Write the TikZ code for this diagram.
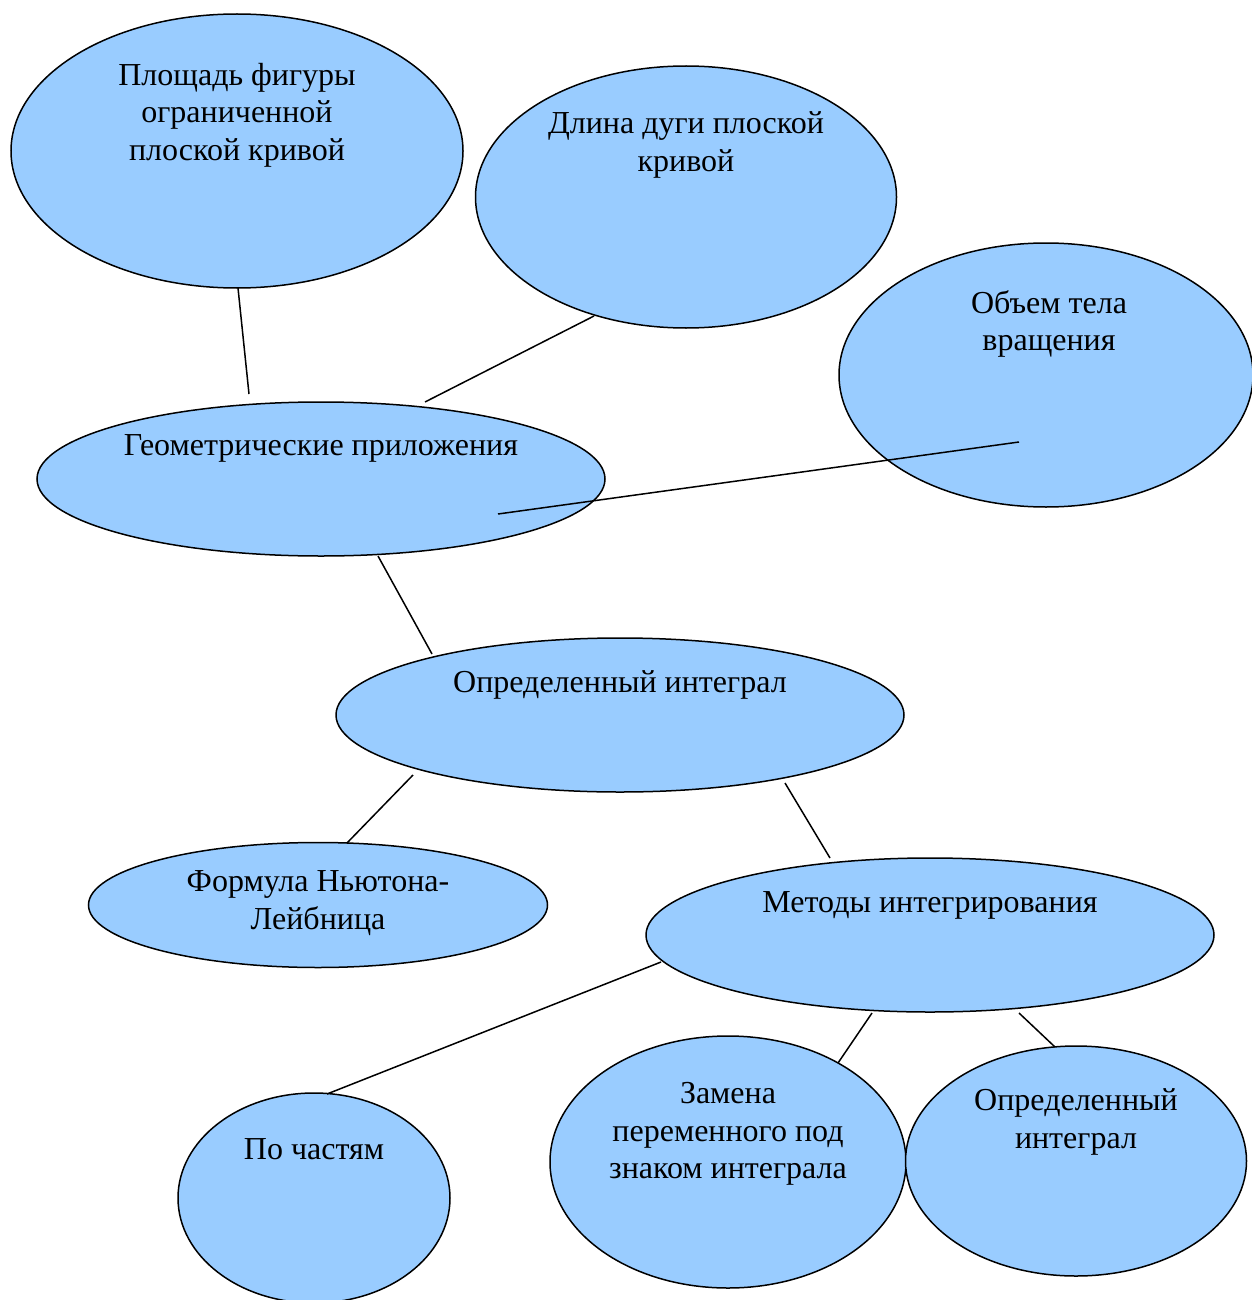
\documentclass[tikz,border=0pt]{standalone}
\usepackage{fontspec}
\setmainfont{Liberation Serif}
\usetikzlibrary{shapes.geometric}
\definecolor{bubble}{HTML}{99CCFF}
\begin{document}
\begin{tikzpicture}[x=1pt,y=-1pt,
  oval/.style={ellipse,draw=black,line width=1.5pt,fill=bubble,inner sep=0pt},
  lbl/.style={align=center,font=\fontsize{32}{37.5}\selectfont,inner sep=0pt},
  link/.style={draw=black,line width=1.5pt}]
\useasboundingbox (0,0) rectangle (1251,1300);
% ellipses
\node[oval,minimum width=452pt,minimum height=274pt] (e1) at (237,151) {};
\node[oval,minimum width=421pt,minimum height=262pt] (e2) at (686,197) {};
\node[oval,minimum width=414pt,minimum height=264pt] (e3) at (1046,375) {};
\node[oval,minimum width=568pt,minimum height=154pt] (e4) at (321,479) {};
\node[oval,minimum width=568pt,minimum height=154pt] (e5) at (620,715) {};
\node[oval,minimum width=459pt,minimum height=125pt] (e6) at (318,905) {};
\node[oval,minimum width=568pt,minimum height=154pt] (e7) at (930,935) {};
\node[oval,minimum width=272pt,minimum height=210pt] (e8) at (314,1198) {};
\node[oval,minimum width=356pt,minimum height=252pt] (e9) at (728,1162) {};
\node[oval,minimum width=341pt,minimum height=230pt] (e10) at (1076,1161) {};
% labels
\node[lbl] (t1) at (237,115) {Площадь фигуры\\ограниченной\\плоской кривой};
\node[lbl] (t2) at (686,145) {Длина дуги плоской\\кривой};
\node[lbl] (t3) at (1049,324) {Объем тела\\вращения};
\node[lbl] (t4) at (321,448) {Геометрические приложения};
\node[lbl] (t5) at (620,685) {Определенный интеграл};
\node[lbl] (t6) at (318,903) {Формула Ньютона-\\Лейбница};
\node[lbl] (t7) at (930,905) {Методы интегрирования};
\node[lbl] (t8) at (314,1149) {По частям};
\node[lbl] (t9) at (728,1134) {Замена\\переменного под\\знаком интеграла};
\node[lbl] (t10) at (1076,1122) {Определенный\\интеграл};
% connector end points
\coordinate (c1a) at (238,288); \coordinate (c1b) at (249,394);
\coordinate (c2a) at (594,316); \coordinate (c2b) at (425,402);
\coordinate (c3a) at (1019,442); \coordinate (c3b) at (498,514);
\coordinate (c4a) at (378,556); \coordinate (c4b) at (432,654);
\coordinate (c5a) at (413,775); \coordinate (c5b) at (347,843);
\coordinate (c6a) at (785,783); \coordinate (c6b) at (830,858);
\coordinate (c7a) at (661,962); \coordinate (c7b) at (327,1094);
\coordinate (c8a) at (872,1013); \coordinate (c8b) at (838,1063);
\coordinate (c9a) at (1019,1013); \coordinate (c9b) at (1055,1047);
\draw[link] (c1a) -- (c1b);
\draw[link] (c2a) -- (c2b);
\draw[link] (c3a) -- (c3b);
\draw[link] (c4a) -- (c4b);
\draw[link] (c5a) -- (c5b);
\draw[link] (c6a) -- (c6b);
\draw[link] (c7a) -- (c7b);
\draw[link] (c8a) -- (c8b);
\draw[link] (c9a) -- (c9b);
\end{tikzpicture}
\end{document}
